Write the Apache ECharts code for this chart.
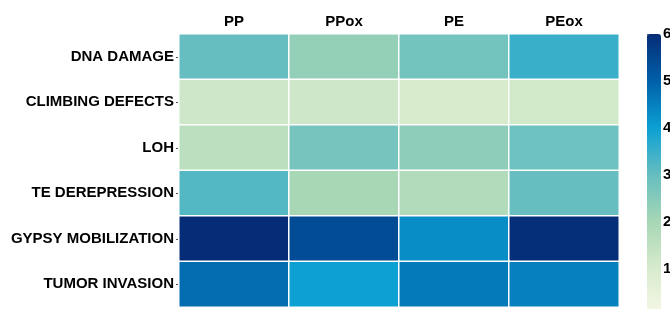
<!DOCTYPE html>
<html>
<head>
<meta charset="utf-8">
<script src="https://cdn.jsdelivr.net/npm/echarts@6/dist/echarts.min.js"></script>
<style>
  html, body { margin: 0; padding: 0; background: #fff; }
  #chart { width: 670px; height: 309px; }
</style>
</head>
<body>
<div id="chart"></div>
<script>
const groups = ['PP', 'PPox', 'PE', 'PEox'];
const phenotypes = ['DNA DAMAGE', 'CLIMBING DEFECTS', 'LOH', 'TE DEREPRESSION', 'GYPSY MOBILIZATION', 'TUMOR INVASION'];

// one array per row, columns in the order of groups
const dnaDamage = [3.0, 2.3, 2.8, 3.5];
const climbing = [1.2, 1.2, 1.0, 1.15];
const loh = [1.6, 2.75, 2.4, 2.9];
const teDerepression = [3.2, 2.0, 1.8, 3.0];
const gypsy = [6.0, 5.4, 4.3, 5.95];
const tumor = [4.8, 4.0, 4.6, 4.5];

const rows = [dnaDamage, climbing, loh, teDerepression, gypsy, tumor];
const cells = [];
rows.forEach((row, r) => {
    row.forEach((v, c) => cells.push([c, r, v]));
});

const chart = echarts.init(document.getElementById('chart'));
const labelFont = {
    color: '#000',
    fontWeight: 'bold',
    fontSize: 15,
    fontFamily: 'Liberation Sans, Arial, sans-serif',
};

chart.setOption({
    animation: false,
    grid: [
        { left: 179, right: 51, top: 34, bottom: 2, outerBoundsMode: 'none' },
        // grid used only for the colour bar scale
        { left: 647, width: 14, top: 34, height: 282, outerBoundsMode: 'none' },
    ],
    xAxis: [
        {
            type: 'category',
            data: groups,
            position: 'top',
            axisLine: { show: false },
            axisTick: { show: false },
            axisLabel: { ...labelFont, margin: 5 },
            splitLine: { show: false },
        },
        {
            gridIndex: 1,
            type: 'value',
            show: false,
        },
    ],
    yAxis: [
        {
            type: 'category',
            data: phenotypes,
            inverse: true,
            axisLine: { show: false },
            axisTick: { show: true, alignWithLabel: true, length: 3, lineStyle: { color: '#555' } },
            axisLabel: { ...labelFont, margin: 5 },
            splitLine: { show: false },
        },
        {
            gridIndex: 1,
            type: 'value',
            min: 0,
            max: 6,
            interval: 1,
            position: 'right',
            axisLine: { show: false },
            axisTick: { show: true, length: 3, lineStyle: { color: '#555' } },
            axisLabel: { ...labelFont, margin: 2 },
            splitLine: { show: false },
        },
    ],
    visualMap: {
        type: 'continuous',
        min: 0,
        max: 6,
        calculable: false,
        seriesIndex: 0,
        left: 647,
        top: 34,
        padding: 0,
        itemWidth: 14,
        itemHeight: 282,
        text: null,
        showLabel: false,
        inRange: {
            color: ['#f6f8e8', '#d8ebcd', '#a7d7b5', '#66bec0', '#0ca0d3', '#0060a9', '#062c77'],
        },
    },
    series: [
        {
            type: 'heatmap',
            data: cells,
            itemStyle: { borderColor: '#fff', borderWidth: 1.5 },
            emphasis: { disabled: true },
        },
    ],
});
</script>
</body>
</html>
